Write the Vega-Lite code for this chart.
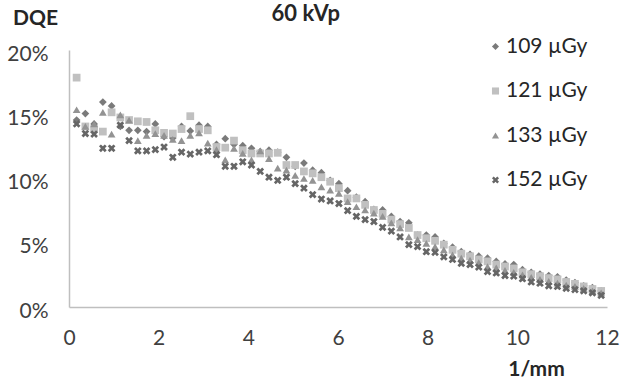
{
  "$schema": "https://vega.github.io/schema/vega-lite/v6.json",
  "width": 538,
  "height": 257,
  "autosize": "none",
  "padding": {"left": 69, "top": 50, "right": 13, "bottom": 73},
  "background": "white",
  "title": {"text": "60 kVp", "anchor": "start", "align": "center", "dx": 299, "offset": -29, "baseline": "middle", "fontSize": 22, "fontWeight": "bold", "font": "Lato", "color": "#262626"},
  "data": {"values": [
    {"x": 0.17, "109 µGy": 14.55, "121 µGy": 17.85, "133 µGy": 15.35, "152 µGy": 14.25},
    {"x": 0.365, "109 µGy": 15.05, "121 µGy": 14.05, "133 µGy": 14.05, "152 µGy": 13.5},
    {"x": 0.56, "109 µGy": 14.25, "121 µGy": 13.85, "133 µGy": 14.25, "152 µGy": 13.45},
    {"x": 0.755, "109 µGy": 15.95, "121 µGy": 13.65, "133 µGy": 15.15, "152 µGy": 12.35},
    {"x": 0.95, "109 µGy": 15.65, "121 µGy": 15.15, "133 µGy": 13.45, "152 µGy": 12.35},
    {"x": 1.145, "109 µGy": 14.05, "121 µGy": 14.75, "133 µGy": 14.95, "152 µGy": 14.15},
    {"x": 1.34, "109 µGy": 13.75, "121 µGy": 14.55, "133 µGy": 14.55, "152 µGy": 12.95},
    {"x": 1.535, "109 µGy": 13.75, "121 µGy": 14.45, "133 µGy": 12.95, "152 µGy": 12.15},
    {"x": 1.73, "109 µGy": 13.65, "121 µGy": 14.4, "133 µGy": 13.35, "152 µGy": 12.15},
    {"x": 1.925, "109 µGy": 14.25, "121 µGy": 13.75, "133 µGy": 13.5, "152 µGy": 12.25},
    {"x": 2.12, "109 µGy": 13.25, "121 µGy": 13.55, "133 µGy": 13.35, "152 µGy": 12.45},
    {"x": 2.315, "109 µGy": 13.15, "121 µGy": 13.5, "133 µGy": 13.05, "152 µGy": 11.65},
    {"x": 2.51, "109 µGy": 14.05, "121 µGy": 13.85, "133 µGy": 12.95, "152 µGy": 12.05},
    {"x": 2.705, "109 µGy": 13.7, "121 µGy": 14.85, "133 µGy": 13.35, "152 µGy": 11.9},
    {"x": 2.9, "109 µGy": 14.15, "121 µGy": 13.85, "133 µGy": 13.55, "152 µGy": 12.05},
    {"x": 3.095, "109 µGy": 14.05, "121 µGy": 13.75, "133 µGy": 12.75, "152 µGy": 12.15},
    {"x": 3.29, "109 µGy": 12.65, "121 µGy": 12.45, "133 µGy": 12.25, "152 µGy": 11.85},
    {"x": 3.485, "109 µGy": 13.1, "121 µGy": 12.4, "133 µGy": 11.45, "152 µGy": 10.95},
    {"x": 3.68, "109 µGy": 12.65, "121 µGy": 12.95, "133 µGy": 12.35, "152 µGy": 10.95},
    {"x": 3.875, "109 µGy": 12.55, "121 µGy": 12.2, "133 µGy": 11.95, "152 µGy": 11.3},
    {"x": 4.07, "109 µGy": 12.35, "121 µGy": 11.95, "133 µGy": 11.45, "152 µGy": 11.05},
    {"x": 4.265, "109 µGy": 12.1, "121 µGy": 11.95, "133 µGy": 12.15, "152 µGy": 10.55},
    {"x": 4.46, "109 µGy": 12.2, "121 µGy": 11.95, "133 µGy": 11.55, "152 µGy": 10.1},
    {"x": 4.655, "109 µGy": 12.05, "121 µGy": 12.0, "133 µGy": 10.8, "152 µGy": 9.85},
    {"x": 4.85, "109 µGy": 11.65, "121 µGy": 11.05, "133 µGy": 10.65, "152 µGy": 10.1},
    {"x": 5.045, "109 µGy": 10.95, "121 µGy": 11.05, "133 µGy": 10.25, "152 µGy": 9.6},
    {"x": 5.24, "109 µGy": 11.2, "121 µGy": 10.55, "133 µGy": 10.0, "152 µGy": 9.25},
    {"x": 5.435, "109 µGy": 10.65, "121 µGy": 10.4, "133 µGy": 9.85, "152 µGy": 8.75},
    {"x": 5.63, "109 µGy": 10.45, "121 µGy": 10.1, "133 µGy": 9.35, "152 µGy": 8.4},
    {"x": 5.825, "109 µGy": 9.85, "121 µGy": 9.75, "133 µGy": 9.1, "152 µGy": 8.25},
    {"x": 6.02, "109 µGy": 9.6, "121 µGy": 9.25, "133 µGy": 8.85, "152 µGy": 8.05},
    {"x": 6.215, "109 µGy": 9.05, "121 µGy": 8.45, "133 µGy": 8.2, "152 µGy": 7.5},
    {"x": 6.41, "109 µGy": 8.55, "121 µGy": 8.45, "133 µGy": 7.8, "152 µGy": 7.05},
    {"x": 6.605, "109 µGy": 8.2, "121 µGy": 7.95, "133 µGy": 7.55, "152 µGy": 6.8},
    {"x": 6.8, "109 µGy": 7.6, "121 µGy": 7.55, "133 µGy": 7.3, "152 µGy": 6.65},
    {"x": 6.995, "109 µGy": 7.55, "121 µGy": 7.25, "133 µGy": 7.05, "152 µGy": 6.2},
    {"x": 7.19, "109 µGy": 7.05, "121 µGy": 6.8, "133 µGy": 6.55, "152 µGy": 5.9},
    {"x": 7.385, "109 µGy": 6.65, "121 µGy": 6.45, "133 µGy": 6.15, "152 µGy": 5.45},
    {"x": 7.58, "109 µGy": 6.55, "121 µGy": 6.15, "133 µGy": 5.45, "152 µGy": 4.85},
    {"x": 7.775, "109 µGy": 5.6, "121 µGy": 5.6, "133 µGy": 5.25, "152 µGy": 4.7},
    {"x": 7.97, "109 µGy": 5.6, "121 µGy": 5.35, "133 µGy": 4.95, "152 µGy": 4.3},
    {"x": 8.165, "109 µGy": 5.45, "121 µGy": 5.15, "133 µGy": 4.7, "152 µGy": 4.25},
    {"x": 8.36, "109 µGy": 4.95, "121 µGy": 4.85, "133 µGy": 4.45, "152 µGy": 3.9},
    {"x": 8.555, "109 µGy": 4.65, "121 µGy": 4.45, "133 µGy": 4.05, "152 µGy": 3.7},
    {"x": 8.75, "109 µGy": 4.3, "121 µGy": 4.15, "133 µGy": 3.8, "152 µGy": 3.4},
    {"x": 8.945, "109 µGy": 4.1, "121 µGy": 3.95, "133 µGy": 3.65, "152 µGy": 3.3},
    {"x": 9.14, "109 µGy": 3.95, "121 µGy": 3.7, "133 µGy": 3.45, "152 µGy": 3.1},
    {"x": 9.335, "109 µGy": 3.8, "121 µGy": 3.55, "133 µGy": 3.15, "152 µGy": 2.75},
    {"x": 9.53, "109 µGy": 3.55, "121 µGy": 3.3, "133 µGy": 3.05, "152 µGy": 2.65},
    {"x": 9.725, "109 µGy": 3.35, "121 µGy": 3.15, "133 µGy": 2.85, "152 µGy": 2.45},
    {"x": 9.92, "109 µGy": 3.3, "121 µGy": 3.0, "133 µGy": 2.7, "152 µGy": 2.4},
    {"x": 10.115, "109 µGy": 2.9, "121 µGy": 2.7, "133 µGy": 2.5, "152 µGy": 2.2},
    {"x": 10.31, "109 µGy": 2.7, "121 µGy": 2.55, "133 µGy": 2.3, "152 µGy": 1.95},
    {"x": 10.505, "109 µGy": 2.55, "121 µGy": 2.4, "133 µGy": 2.15, "152 µGy": 1.85},
    {"x": 10.7, "109 µGy": 2.45, "121 µGy": 2.25, "133 µGy": 2.0, "152 µGy": 1.65},
    {"x": 10.895, "109 µGy": 2.35, "121 µGy": 2.15, "133 µGy": 1.85, "152 µGy": 1.6},
    {"x": 11.09, "109 µGy": 2.1, "121 µGy": 1.95, "133 µGy": 1.7, "152 µGy": 1.45},
    {"x": 11.285, "109 µGy": 1.9, "121 µGy": 1.8, "133 µGy": 1.6, "152 µGy": 1.35},
    {"x": 11.48, "109 µGy": 1.65, "121 µGy": 1.6, "133 µGy": 1.45, "152 µGy": 1.25},
    {"x": 11.675, "109 µGy": 1.5, "121 µGy": 1.4, "133 µGy": 1.25, "152 µGy": 1.1},
    {"x": 11.87, "109 µGy": 1.25, "121 µGy": 1.25, "133 µGy": 1.1, "152 µGy": 0.9}
  ]},
  "transform": [{"fold": ["109 µGy", "121 µGy", "133 µGy", "152 µGy"], "as": ["series", "dqe"]}],
  "mark": {"type": "point", "filled": true, "opacity": 1, "size": 60, "strokeWidth": 0},
  "encoding": {
    "x": {"field": "x", "type": "quantitative", "scale": {"domain": [0, 12], "nice": false},
      "axis": {"values": [0, 2, 4, 6, 8, 10, 12], "title": "1/mm", "titleX": 467, "titleY": 62, "titleAlign": "center", "titleBaseline": "middle", "labelPadding": 20, "labelFlush": false}},
    "y": {"field": "dqe", "type": "quantitative", "scale": {"domain": [0, 20], "nice": false},
      "axis": {"values": [0, 5, 10, 15, 20], "labelExpr": "datum.value + '%'", "title": "DQE", "titleAngle": 0, "titleX": -34, "titleY": -32, "titleAlign": "center", "titleBaseline": "middle", "labelPadding": 21, "labelOffset": 4}},
    "color": {"field": "series", "type": "nominal",
      "scale": {"domain": ["109 µGy", "121 µGy", "133 µGy", "152 µGy"], "range": ["#7a7a7a", "#c0c0c0", "#939393", "#666666"]},
      "legend": {"title": null, "orient": "none", "legendX": 416, "legendY": -14, "rowPadding": 22.5, "labelFontSize": 21, "labelFont": "Lato", "labelColor": "#262626", "symbolSize": 50, "labelOffset": 0, "symbolStrokeWidth": 0}},
    "shape": {"field": "series", "type": "nominal",
      "scale": {"domain": ["109 µGy", "121 µGy", "133 µGy", "152 µGy"], "range": ["diamond", "square", "triangle-up", "M-1,-0.5L-0.5,-1L0,-0.5L0.5,-1L1,-0.5L0.5,0L1,0.5L0.5,1L0,0.5L-0.5,1L-1,0.5L-0.5,0Z"]},
      "legend": {"title": null}},
    "order": {"field": "series", "type": "nominal"}
  },
  "config": {
    "view": {"stroke": null},
    "axis": {"grid": false, "ticks": false, "tickSize": 0, "domainColor": "#bfbfbf", "domainWidth": 1.5, "labelFont": "Lato", "labelFontSize": 21, "labelColor": "#404040", "titleFont": "Lato", "titleFontSize": 21, "titleFontWeight": "bold", "titleColor": "#262626"}
  }
}
